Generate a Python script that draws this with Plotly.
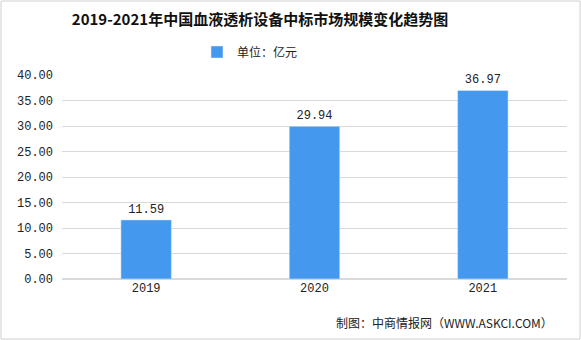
import plotly.graph_objects as go

years = ["2019", "2020", "2021"]
values = [11.59, 29.94, 36.97]
value_labels = ["11.59", "29.94", "36.97"]
tick_vals = [0, 5, 10, 15, 20, 25, 30, 35, 40]
tick_text = ["0.00", "5.00", "10.00", "15.00", "20.00", "25.00", "30.00", "35.00", "40.00"]

mono = "Liberation Mono, DejaVu Sans Mono, monospace"
cjk = "Noto Sans CJK SC"

fig = go.Figure()
fig.add_trace(go.Bar(
    x=years, y=values, name="单位：亿元",
    marker=dict(color="#4499EE"),
    text=value_labels, textposition="outside",
    textfont=dict(family=mono, size=12, color="#222222"),
    cliponaxis=False,
))

fig.update_layout(
    width=581, height=340,
    paper_bgcolor="white", plot_bgcolor="white",
    margin=dict(l=62, r=14, t=75, b=61, autoexpand=False),
    bargap=0.7,
    title=dict(text="<b>2019-2021年中国血液透析设备中标市场规模变化趋势图</b>",
               x=260 / 581, xanchor="center", xref="container",
               y=1 - 20 / 340, yanchor="middle", yref="container",
               font=dict(family=cjk, size=15, color="#111111")),
    showlegend=True,
    legend=dict(orientation="h", x=250 / 581, xanchor="center", xref="container",
                y=1 - 52 / 340, yanchor="middle", yref="container",
                font=dict(family=cjk, size=12, color="#222222"),
                itemwidth=30),
    xaxis=dict(showline=False, ticks="", automargin=False,
               tickfont=dict(family=mono, size=12, color="#222222")),
    yaxis=dict(range=[0, 40], tickvals=tick_vals, ticktext=tick_text, automargin=False,
               showgrid=True, gridcolor="#D9D9D9", gridwidth=1, zeroline=True,
               zerolinecolor="#D9D9D9", ticks="", ticklen=0, ticklabelstandoff=8,
               tickfont=dict(family=mono, size=12, color="#222222")),
    annotations=[dict(text="制图：中商情报网（WWW.ASKCI.COM）", xref="paper", yref="paper",
                      x=(555 - 62) / 505, xanchor="right", y=(279 - 322) / 204, yanchor="middle",
                      showarrow=False,
                      font=dict(family=cjk, size=12, color="#222222"))],
    shapes=[dict(type="rect", xref="paper", yref="paper",
                 x0=(1 - 62) / 505, x1=(580 - 62) / 505,
                 y0=(279 - 339) / 204, y1=(279 - 1) / 204,
                 line=dict(color="#D0D0D0", width=1), layer="below")],
)

fig.write_html("out.html", config={"displayModeBar": False},
               post_script="document.body.style.margin='0';document.body.style.overflow='hidden';")
